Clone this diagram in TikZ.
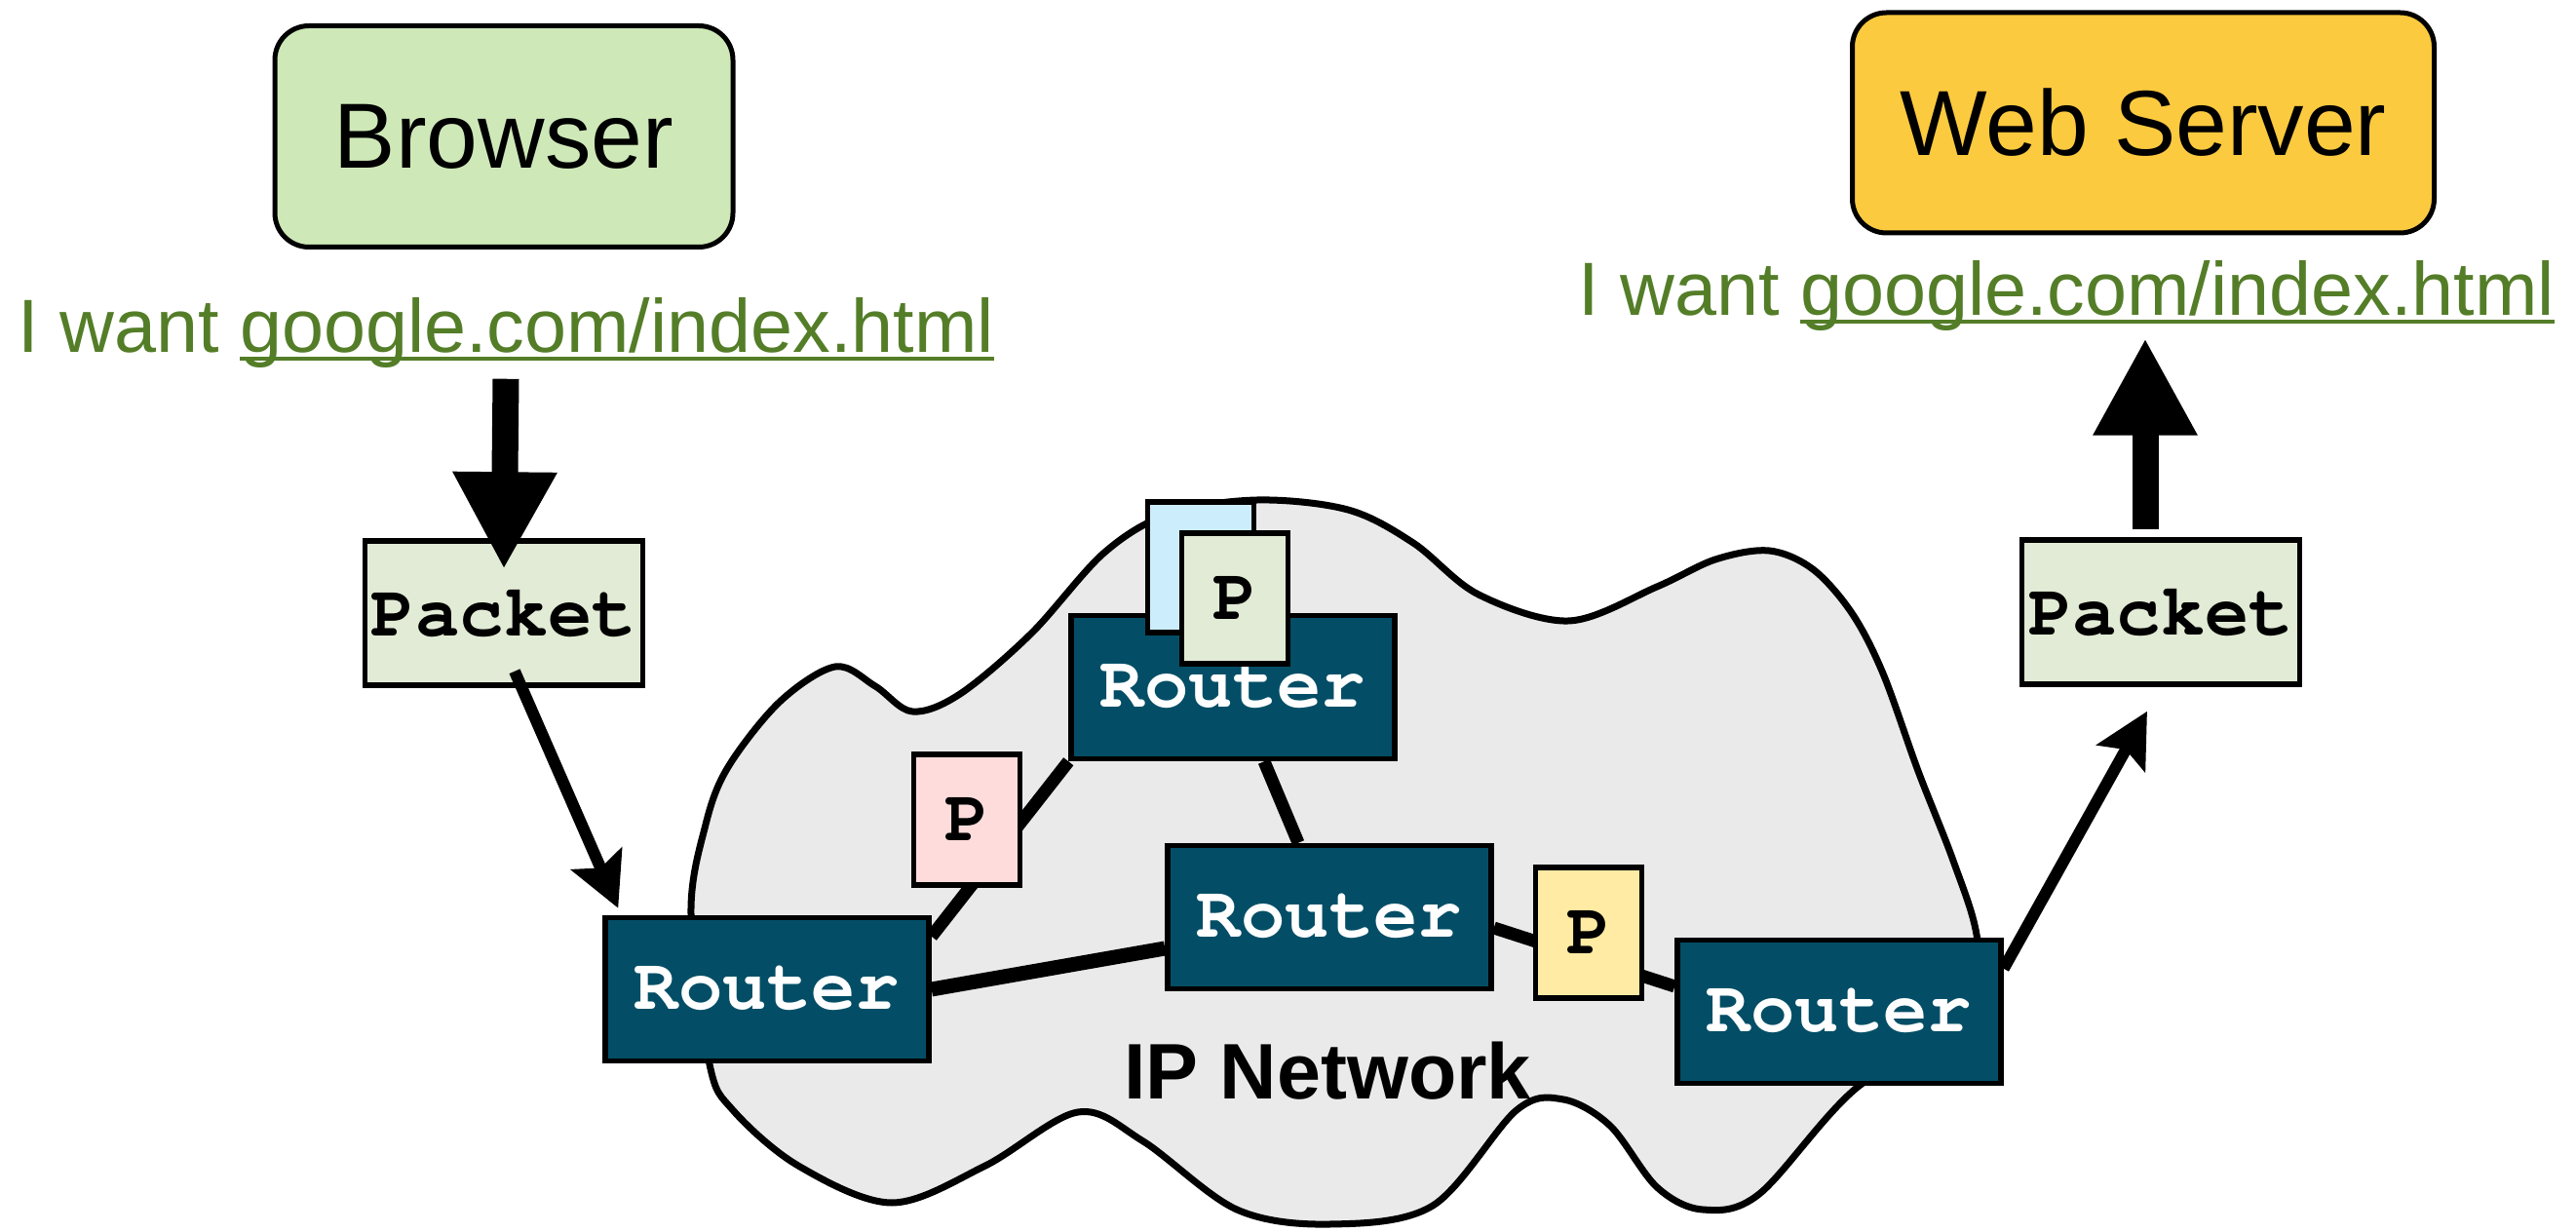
\documentclass[tikz,border=0pt]{standalone}
\usepackage[T1]{fontenc}
\usepackage{fontspec}
\setmainfont{Liberation Sans}
\newcommand{\courierbold}{\fontencoding{T1}\fontfamily{pcr}\fontseries{b}\selectfont}
\definecolor{browsergreen}{RGB}{207, 232, 184}
\definecolor{servergold}{RGB}{252, 202, 63}
\definecolor{wantgreen}{RGB}{84, 125, 40}
\definecolor{packetgreen}{RGB}{225, 235, 213}
\definecolor{routerteal}{RGB}{3, 78, 102}
\definecolor{pblue}{RGB}{204, 238, 252}
\definecolor{ppink}{RGB}{254, 220, 219}
\definecolor{pyellow}{RGB}{255, 235, 163}
\definecolor{cloudgray}{RGB}{234, 234, 234}
\usetikzlibrary{arrows.meta, backgrounds}

\newcommand{\linkline}[1]{\setbox0=\hbox{#1}\rlap{\rule[-0.1em]{\wd0}{0.05em}}\box0}

\begin{document}
\begin{tikzpicture}[
  endpoint/.style={draw, line width=0.05cm, rounded corners=0.35cm, inner sep=0pt, font=\fontsize{27}{32}\selectfont},
  want/.style={text=wantgreen, inner sep=0pt, anchor=base, font=\fontsize{22}{26}\selectfont},
  packet/.style={draw, fill=packetgreen, line width=0.055cm, inner sep=0pt, minimum width=2.85cm, minimum height=1.48cm, font=\courierbold\fontsize{21.5}{24}\selectfont},
  router/.style={draw, fill=routerteal, text=white, line width=0.055cm, inner sep=0pt, minimum width=3.32cm, minimum height=1.47cm, font=\courierbold\fontsize{21.5}{24}\selectfont},
  pbox/.style={draw, line width=0.055cm, inner sep=0pt, minimum width=1.09cm, minimum height=1.34cm, font=\courierbold\fontsize{21.5}{24}\selectfont},
  link/.style={line width=0.13cm},
  bigarrow/.style={line width=0.27cm, -{Triangle[length=1.0cm, width=1.0cm]}},
  hop/.style={line width=0.12cm, -{Stealth[length=0.55cm, width=0.56cm, inset=0.1cm]}}
]
  \useasboundingbox (0, 0) rectangle (26.43, 12.64);

  % End points
  \node[endpoint, fill=browsergreen, minimum width=4.7cm, minimum height=2.27cm] (browser) at (5.17, 11.24) {Browser};
  \node[endpoint, fill=servergold, minimum width=5.97cm, minimum height=2.26cm] (server) at (21.99, 11.38) {Web Server};
  \node[want] (wantL) at (5.19, 9.02) {I want \linkline{google.com/index.html}};
  \node[want] (wantR) at (21.20, 9.40) {I want \linkline{google.com/index.html}};

  % Packets
  \node[packet] (pktL) at (5.17, 6.35) {Packet};
  \node[packet] (pktR) at (22.17, 6.36) {Packet};

  % Routers
  \node[router] (r1) at (7.87, 2.49) {Router};
  \node[router] (r2) at (12.65, 5.59) {Router};
  \node[router] (r3) at (13.64, 3.23) {Router};
  \node[router] (r4) at (18.87, 2.26) {Router};
  \node[font=\bfseries\fontsize{23}{27}\selectfont, inner sep=0pt] (net) at (13.62, 1.65) {IP Network};

  % Cloud and links
  \begin{scope}[on background layer]
    \draw[line width=0.07cm, fill=cloudgray] plot[smooth cycle, tension=0.55] coordinates {
      (7.28, 1.72) (7.09, 3.26) (7.24, 4.18) (7.47, 4.77) (8.00, 5.44) (8.57, 5.80)
      (8.98, 5.60) (9.36, 5.34) (9.85, 5.52) (10.58, 6.14) (11.33, 6.97) (12.00, 7.37)
      (12.90, 7.51) (13.83, 7.41) (14.50, 7.07) (15.17, 6.54) (16.10, 6.27) (17.00, 6.62)
      (17.60, 6.90) (18.15, 6.99) (18.60, 6.80) (19.00, 6.35) (19.32, 5.73) (19.68, 4.73)
      (20.04, 3.81) (20.28, 3.05) (20.30, 2.24) (19.05, 1.48) (18.05, 0.39) (17.47, 0.23)
      (17.00, 0.46) (16.52, 1.09) (16.04, 1.36) (15.56, 1.25) (14.70, 0.27) (13.65, 0.08)
      (12.69, 0.23) (11.73, 0.93) (11.06, 1.23) (10.11, 0.68) (9.15, 0.30) (8.19, 0.68)
      (7.52, 1.25)};
    \draw[link] ([yshift=-0.22cm]r1.north east) -- (r2.south west);
    \draw[link, line width=0.15cm] (r1.east) -- ([yshift=-0.32cm]r3.west);
    \draw[link] (r2) -- (r3);
    \draw[link] ([yshift=-0.11cm]r3.east) -- ([yshift=0.26cm]r4.west);
  \end{scope}

  % Packets in flight
  \node[pbox, fill=pblue] (pb) at (12.32, 6.82) {};
  \node[pbox, fill=packetgreen] (pg) at (12.67, 6.50) {P};
  \node[pbox, fill=ppink] (pp) at (9.92, 4.23) {P};
  \node[pbox, fill=pyellow] (py) at (16.30, 3.07) {P};

  % Arrows
  \draw[bigarrow] ([yshift=-0.1cm]wantL.south) -- ([yshift=-0.32cm]pktL.north);
  \draw[bigarrow] ([xshift=-0.16cm, yshift=0.08cm]pktR.north) -- ([xshift=-0.16cm, yshift=-0.06cm]pktR.north |- wantR.south);
  \draw[hop] ([xshift=0.11cm, yshift=0.17cm]pktL.south) -- ([xshift=0.16cm, yshift=0.07cm]r1.north west);
  \draw[hop] ([yshift=-0.32cm]r4.north east) -- ([xshift=-0.14cm, yshift=-0.25cm]pktR.south);
\end{tikzpicture}
\end{document}
